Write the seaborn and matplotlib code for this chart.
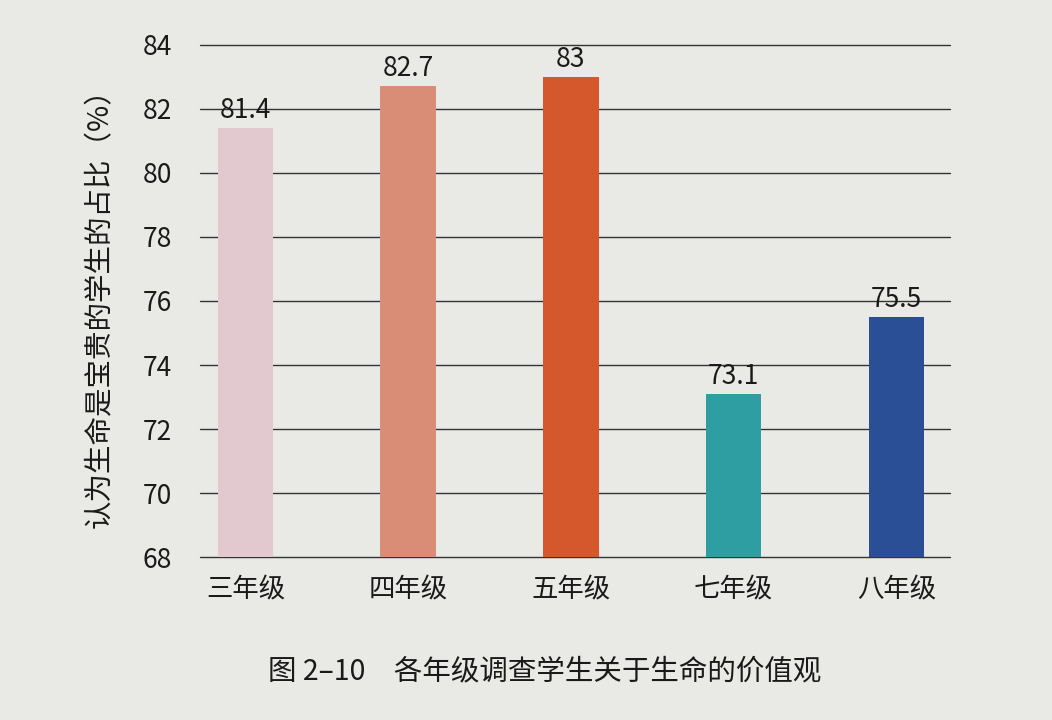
import matplotlib
matplotlib.use("Agg")
import matplotlib.pyplot as plt
import seaborn as sns
import pandas as pd

grades = ["三年级", "四年级", "五年级", "七年级", "八年级"]
values = [81.4, 82.7, 83.0, 73.1, 75.5]
value_labels = ["81.4", "82.7", "83", "73.1", "75.5"]
colors = ["#e2c9cf", "#d98c76", "#d5582c", "#2f9ea2", "#2b4f97"]
yticks = [68, 70, 72, 74, 76, 78, 80, 82, 84]

sns.set_theme(style="white")
plt.rcParams['font.family'] = ['Noto Sans CJK SC', 'DejaVu Sans']
bg = "#e9e9e5"

fig = plt.figure(figsize=(10.52, 7.2), dpi=100, facecolor=bg)
ax = fig.add_axes([0.19, 0.226, 0.713, 0.712])
ax.set_facecolor(bg)

df = pd.DataFrame({"grade": grades, "value": values})
for y in yticks:
    ax.axhline(y, color="#333333", lw=1.0, zorder=0, clip_on=False)

sns.barplot(data=df, x="grade", y="value", hue="grade", palette=colors,
            width=0.34, ax=ax, legend=False, zorder=2, saturation=1,
            edgecolor="none", linewidth=0)
ax.set_ylim(68, 84)
ax.set_xlim(-0.28, 4.33)
ax.set_yticks(yticks)
ax.set_yticklabels([str(t) for t in yticks], fontsize=19, color="#1a1a1a")
ax.tick_params(axis='y', length=0, pad=20)
ax.tick_params(axis='x', length=0, pad=14, labelsize=19, labelcolor="#1a1a1a")
ax.set_xlabel("")
ax.set_ylabel("认为生命是宝贵的学生的占比（%）", fontsize=20.5, color="#1a1a1a", labelpad=20)
for s in ax.spines.values():
    s.set_visible(False)

for i, (v, lab) in enumerate(zip(values, value_labels)):
    ax.text(i, v + 0.12, lab, ha="center", va="bottom", fontsize=19, color="#1a1a1a")

fig.text(0.518, 0.068, "图 2–10　各年级调查学生关于生命的价值观", ha="center", va="center",
         fontsize=20.5, color="#1a1a1a")

fig.savefig("out.png", dpi=100, facecolor=bg)
